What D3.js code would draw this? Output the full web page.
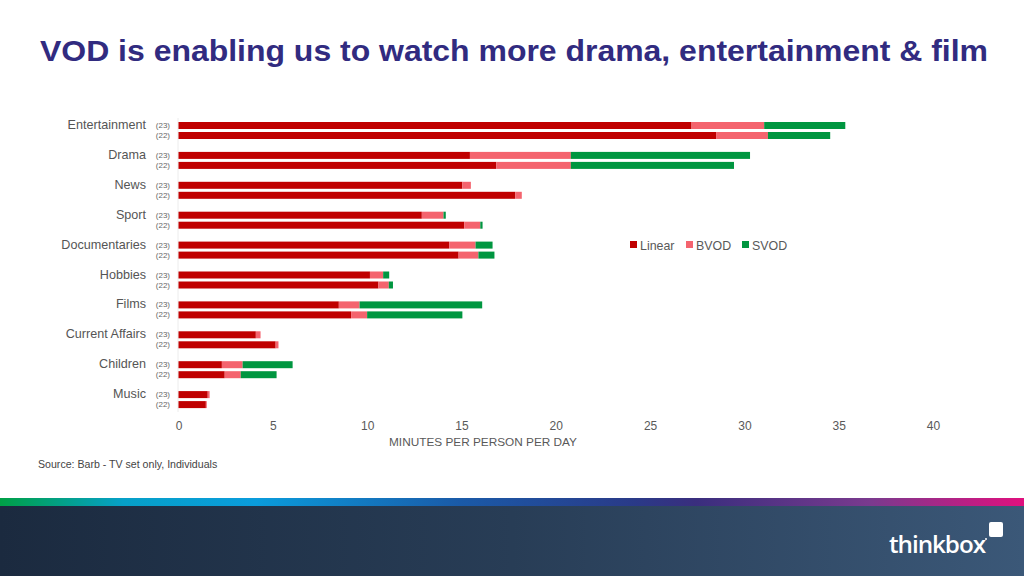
<!DOCTYPE html>
<html><head><meta charset="utf-8">
<script src="https://cdn.jsdelivr.net/npm/d3@7"></script>
<style>
html,body{margin:0;padding:0;background:#fff;}
svg{display:block;font-family:"Liberation Sans",Arial,sans-serif;}
</style></head>
<body>
<svg id="chart" width="1024" height="576"></svg>
<script>
const categories = ["Entertainment","Drama","News","Sport","Documentaries","Hobbies","Films","Current Affairs","Children","Music"];
const years = ["(23)","(22)"];
const seriesNames = ["Linear","BVOD","SVOD"];
const seriesColors = ["#c00000","#f4646e","#009640"];
// values per category: [23, 22]
const linear = [[27.2,28.5],[15.45,16.85],[15.05,17.85],[12.9,15.15],[14.35,14.85],[10.15,10.6],[8.5,9.15],[4.1,5.15],[2.3,2.45],[1.55,1.45]];
const bvod   = [[3.85,2.75],[5.35,3.95],[0.45,0.35],[1.15,0.85],[1.4,1.05],[0.7,0.55],[1.1,0.85],[0.25,0.15],[1.1,0.85],[0.1,0.05]];
const svod   = [[4.3,3.3],[9.5,8.65],[0,0],[0.12,0.12],[0.9,0.85],[0.32,0.22],[6.5,5.05],[0,0],[2.65,1.9],[0,0]];
const xTicks = [0,5,10,15,20,25,30,35,40];

const svg = d3.select("#chart");

// Title
svg.append("text").attr("x",40).attr("y",61)
  .attr("font-size",30).attr("font-weight","bold").attr("fill","#312b80")
  .attr("textLength",948).attr("lengthAdjust","spacingAndGlyphs")
  .text("VOD is enabling us to watch more drama, entertainment & film");

const x = d3.scaleLinear().domain([0,40]).range([178.5,933]);
const yCat = d3.scaleBand().domain(categories).range([111,410]).paddingInner(0).paddingOuter(0);
const barH = 7;

// faint baseline
svg.append("line").attr("x1",x(0)-0.5).attr("x2",x(0)-0.5).attr("y1",118).attr("y2",412)
  .attr("stroke","#ececec").attr("stroke-width",1);

const rows = [];
categories.forEach((c,i)=>{
  years.forEach((yr,j)=>{
    const vals=[linear[i][j],bvod[i][j],svod[i][j]];
    let acc=0;
    const segs = vals.map((v,k)=>{const s={x0:acc,x1:acc+v,k}; acc+=v; return s;});
    rows.push({c,i,yr,j,segs});
  });
});

const rowY = d=> yCat(d.c) + 11 + d.j*10;

const g = svg.append("g");
rows.forEach(r=>{
  r.segs.forEach(s=>{
    if(s.x1-s.x0<=0) return;
    g.append("rect").attr("x",x(s.x0)).attr("width",x(s.x1)-x(s.x0))
      .attr("y",rowY(r)).attr("height",barH).attr("fill",seriesColors[s.k]);
  });
  svg.append("text").attr("x",170).attr("y",rowY(r)+6).attr("text-anchor","end")
    .attr("font-size",8).attr("fill","#666").text(r.yr);
});

// category labels
categories.forEach(c=>{
  svg.append("text").attr("x",146).attr("y",yCat(c)+18).attr("text-anchor","end")
    .attr("font-size",12.6).attr("fill","#555").text(c);
});

// x axis
const ax = svg.append("g").attr("transform","translate(0,421)")
  .call(d3.axisBottom(x).tickValues(xTicks).tickSize(0).tickPadding(0));
ax.select(".domain").remove();
ax.selectAll("text").attr("font-size",12).attr("fill","#595959")
  .attr("font-family","'Liberation Sans',Arial,sans-serif").attr("dy","0.71em");

svg.append("text").attr("x",483).attr("y",446).attr("text-anchor","middle")
  .attr("font-size",11.8).attr("fill","#595959").text("MINUTES PER PERSON PER DAY");

// legend
const leg = svg.append("g").attr("transform","translate(630,245)");
const legX=[0,56,112];
seriesNames.forEach((n,k)=>{
  leg.append("rect").attr("x",legX[k]).attr("y",-4).attr("width",7).attr("height",7).attr("fill",seriesColors[k]);
  leg.append("text").attr("x",legX[k]+10).attr("y",4.5).attr("font-size",12.4).attr("fill","#595959").text(n);
});

// source
svg.append("text").attr("x",38).attr("y",468).attr("font-size",10.6).attr("fill","#444")
  .text("Source: Barb - TV set only, Individuals");

// footer
const defs = svg.append("defs");
const sg = defs.append("linearGradient").attr("id","strip");
[["0%","#00a046"],["12%","#06a0c8"],["25%","#0a9cdc"],["45%","#1a5aa8"],["62%","#2a3a88"],["68%","#3a2e7e"],["85%","#7a3a8e"],["100%","#e0107e"]]
  .forEach(s=>sg.append("stop").attr("offset",s[0]).attr("stop-color",s[1]));
const bg = defs.append("linearGradient").attr("id","band");
[["0%","#1b2a3f"],["50%","#283d56"],["100%","#3b5878"]].forEach(s=>bg.append("stop").attr("offset",s[0]).attr("stop-color",s[1]));
svg.append("rect").attr("x",0).attr("y",498).attr("width",1024).attr("height",9).attr("fill","url(#strip)");
svg.append("rect").attr("x",0).attr("y",506).attr("width",1024).attr("height",70).attr("fill","url(#band)");
svg.append("text").attr("x",889).attr("y",553).attr("font-size",23).attr("font-weight",600)
  .attr("fill","#fff").attr("font-family","'Open Sans',Arial,sans-serif").attr("letter-spacing",-1)
  .attr("textLength",96).attr("lengthAdjust","spacingAndGlyphs").text("thinkbox");
svg.append("rect").attr("x",989).attr("y",522).attr("width",14).attr("height",15).attr("rx",2).attr("fill","#fff");
svg.append("circle").attr("cx",986).attr("cy",539).attr("r",1).attr("fill","#fff");
</script>
</body></html>
